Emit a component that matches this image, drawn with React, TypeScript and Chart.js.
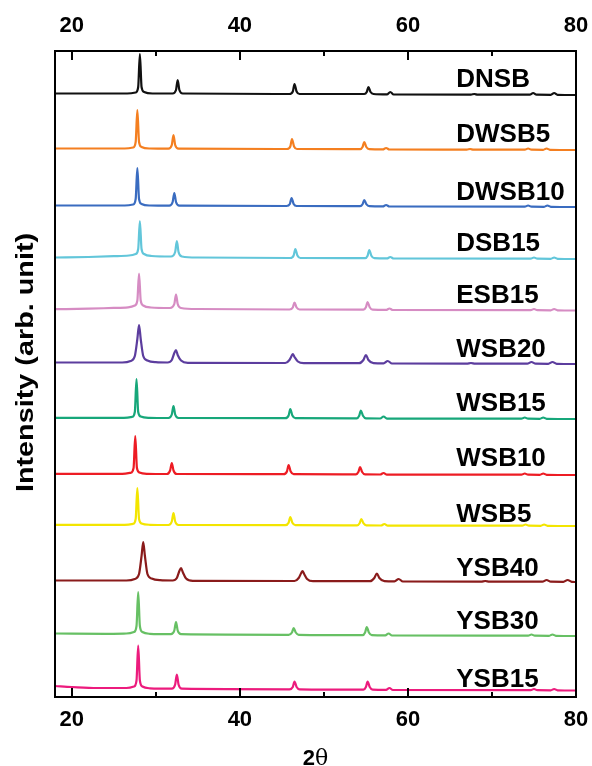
import React, { useEffect, useRef } from 'react';
import { Chart, registerables } from 'chart.js';

Chart.register(...registerables);

// ---- data -------------------------------------------------------------
const sampleNames = ['DNSB', 'DWSB5', 'DWSB10', 'DSB15', 'ESB15', 'WSB20', 'WSB15', 'WSB10', 'WSB5', 'YSB40', 'YSB30', 'YSB15'];
// vertical stacking offset of each pattern (arb. unit)
const baselineOffsets = [602, 547, 490, 438, 386.5, 333, 278, 222, 171, 115, 61, 6.5];
// vertical level of each sample name (arb. unit)
const labelLevels = [619, 564, 506, 455, 403, 349.5, 295, 240, 184.5, 130, 77, 19];
const labelStart2Theta = 65.75;
const xMin = 18;
const xMax = 80;
const yMin = 0;
const yMax = 646;
const xMajorTicks = [20, 40, 60, 80];
const xMinorTicks = [30, 50, 70];

// patterns: flat [2θ, intensity, 2θ, intensity, ...]
const DNSB = [18, 1.5, 26.6, 1.5, 27.6, 2.5, 27.9, 8, 28.1, 41, 28.3, 8, 28.6, 3, 29.6, 1.5, 32.0, 1.5, 32.4, 5, 32.6, 15, 32.8, 5, 33.2, 1.5, 45.9, 1, 46.3, 3.5, 46.5, 11, 46.75, 3.5, 47.1, 1, 54.8, 1, 55.1, 3, 55.3, 8, 55.55, 3, 55.9, 1, 57.5, 0.6, 57.9, 3, 58.3, 0.5, 67.5, 0.4, 67.9, 1, 68.3, 0.3, 74.5, 0.3, 74.9, 2, 75.3, 0.3, 77.0, 0.2, 77.4, 2, 77.8, 0.2, 80, 0];
const DWSB5 = [18, 1.5, 26.3, 1.5, 27.3, 2.5, 27.6, 8, 27.8, 40, 28.0, 8, 28.3, 3, 29.3, 1.5, 31.5, 1.3, 31.9, 5, 32.1, 15, 32.3, 5, 32.7, 1.3, 45.6, 1, 46.0, 3.5, 46.2, 11, 46.45, 3.5, 46.8, 1, 54.3, 0.8, 54.6, 3, 54.8, 8, 55.05, 3, 55.4, 0.8, 57.0, 0.6, 57.4, 2, 57.8, 0.5, 67.0, 0.4, 67.4, 1, 67.8, 0.3, 73.9, 0.3, 74.3, 1.5, 74.7, 0.3, 76.1, 0.2, 76.5, 1.5, 76.9, 0.2, 80, 0];
const DWSB10 = [18, 1.5, 26.3, 1.5, 27.3, 2.5, 27.6, 8, 27.8, 39, 28.0, 8, 28.3, 3, 29.3, 1.5, 31.6, 1.3, 32.0, 5, 32.2, 14, 32.4, 5, 32.8, 1.3, 45.55, 1, 45.95, 3, 46.15, 9, 46.4, 3, 46.75, 1, 54.3, 0.8, 54.6, 2.8, 54.8, 7, 55.05, 2.8, 55.4, 0.8, 57.0, 0.6, 57.4, 2, 57.8, 0.5, 73.9, 0.3, 74.3, 1.5, 74.7, 0.3, 76.2, 0.2, 76.6, 1.5, 77.0, 0.2, 80, 0];
const DSB15 = [18, 1.5, 22, 2, 25, 2.8, 26.8, 3.5, 27.6, 5, 27.9, 10, 28.1, 38, 28.3, 10, 28.6, 5, 29.5, 3, 31.8, 2.5, 32.3, 7, 32.5, 18, 32.7, 7, 33.1, 2.5, 35, 1.5, 46.0, 1, 46.4, 3.5, 46.6, 10, 46.85, 3.5, 47.2, 1, 54.9, 0.8, 55.2, 3.3, 55.4, 9, 55.65, 3.3, 56.0, 0.8, 57.5, 0.6, 57.9, 2, 58.3, 0.5, 74.6, 0.3, 75.0, 1.5, 75.4, 0.3, 77.0, 0.2, 77.4, 1.5, 77.8, 0.2, 80, 0];
const ESB15 = [18, 1.3, 22, 1.8, 25, 2.6, 26.7, 3.2, 27.5, 5, 27.8, 10, 28.0, 37, 28.2, 10, 28.5, 5, 29.4, 3, 31.7, 2.5, 32.2, 6.5, 32.4, 16, 32.6, 6.5, 33.0, 2.5, 35, 1.5, 45.9, 1, 46.3, 3, 46.5, 8, 46.75, 3, 47.1, 1, 54.7, 0.8, 55.0, 3.2, 55.2, 8.5, 55.45, 3.2, 55.8, 0.8, 57.4, 0.6, 57.8, 2, 58.2, 0.5, 74.6, 0.3, 75.0, 1.5, 75.4, 0.3, 77.0, 0.2, 77.4, 1.5, 77.8, 0.2, 80, 0];
const WSB20 = [18, 1.5, 26.0, 1.5, 27.0, 3, 27.5, 8, 27.8, 25, 28.0, 39, 28.2, 25, 28.5, 8, 29.0, 3.5, 30, 1.8, 31.4, 1.5, 31.9, 4, 32.2, 11, 32.4, 14, 32.6, 9, 33.0, 3.5, 33.8, 1.2, 45.4, 1, 45.9, 4, 46.15, 8, 46.3, 10, 46.5, 7, 46.9, 2.5, 47.6, 0.8, 54.2, 0.8, 54.7, 4, 55.0, 9, 55.3, 4, 55.9, 0.8, 57.1, 0.6, 57.6, 3, 58.1, 0.5, 67.0, 0.4, 67.5, 1, 68.0, 0.3, 74.2, 0.3, 74.7, 2, 75.2, 0.3, 76.7, 0.2, 77.2, 2, 77.7, 0.2, 80, 0];
const WSB15 = [18, 1.2, 26.2, 1.2, 27.2, 2.2, 27.5, 7, 27.7, 40, 27.9, 7, 28.2, 2.5, 29.2, 1.2, 31.5, 1, 31.9, 4.5, 32.1, 13, 32.3, 4.5, 32.7, 1, 45.4, 0.8, 45.8, 3.5, 46.0, 10, 46.25, 3.5, 46.6, 0.8, 53.9, 0.6, 54.2, 3.2, 54.4, 8.5, 54.65, 3.2, 55.0, 0.6, 56.7, 0.5, 57.1, 2.5, 57.5, 0.4, 73.5, 0.3, 73.9, 1.5, 74.3, 0.3, 75.7, 0.2, 76.1, 1.5, 76.5, 0.2, 80, 0];
const WSB10 = [18, 1.2, 26.0, 1.2, 27.0, 2.2, 27.35, 7, 27.55, 39, 27.75, 7, 28.05, 2.5, 29.0, 1.2, 31.3, 1, 31.7, 4.5, 31.9, 12, 32.1, 4.5, 32.5, 1, 45.2, 0.8, 45.6, 3.5, 45.8, 10, 46.05, 3.5, 46.4, 0.8, 53.8, 0.6, 54.1, 3, 54.3, 8, 54.55, 3, 54.9, 0.6, 56.7, 0.5, 57.1, 2, 57.5, 0.4, 73.5, 0.3, 73.9, 1.5, 74.3, 0.3, 75.7, 0.2, 76.1, 1.5, 76.5, 0.2, 80, 0];
const WSB5 = [18, 1.2, 26.3, 1.2, 27.3, 2.2, 27.6, 7, 27.8, 38, 28.0, 7, 28.3, 2.5, 29.3, 1.2, 31.5, 1, 31.9, 4.5, 32.1, 13, 32.3, 4.5, 32.7, 1, 45.4, 0.8, 45.8, 3.2, 46.0, 9, 46.25, 3.2, 46.6, 0.8, 53.95, 0.6, 54.25, 2.8, 54.45, 7, 54.7, 2.8, 55.05, 0.6, 56.8, 0.5, 57.2, 2, 57.6, 0.4, 73.6, 0.3, 74.0, 1.5, 74.4, 0.3, 75.8, 0.2, 76.2, 1.5, 76.6, 0.2, 80, 0];
const YSB40 = [18, 1.5, 26.5, 1.5, 27.5, 3, 28.0, 8, 28.3, 26, 28.5, 40, 28.7, 26, 29.0, 8, 29.5, 3.5, 30.5, 1.8, 32.0, 1.5, 32.5, 4, 32.8, 11, 33.0, 14, 33.2, 10, 33.6, 3.5, 34.4, 1.2, 46.5, 1, 47.0, 4, 47.3, 9, 47.45, 11, 47.65, 8, 48.0, 3, 48.7, 0.8, 55.5, 0.8, 56.0, 4, 56.3, 8.5, 56.6, 4, 57.2, 0.8, 58.4, 0.6, 58.9, 3, 59.4, 0.5, 68.7, 0.4, 69.2, 1, 69.7, 0.3, 76.0, 0.3, 76.5, 2, 77.0, 0.3, 78.5, 0.2, 79.0, 2, 79.5, 0.2, 80, 0];
const YSB30 = [18, 2.5, 24, 2.2, 26.5, 2.5, 27.4, 4, 27.7, 10, 27.9, 44, 28.1, 10, 28.4, 4, 29.3, 2.2, 31.8, 1.8, 32.2, 5.5, 32.4, 14, 32.6, 5.5, 33.0, 1.8, 45.8, 1.2, 46.2, 3.5, 46.4, 8, 46.65, 3.5, 47.0, 1.2, 54.6, 0.8, 54.9, 3.5, 55.1, 9, 55.35, 3.5, 55.7, 0.8, 57.3, 0.6, 57.7, 2.5, 58.1, 0.5, 74.3, 0.3, 74.7, 1.5, 75.1, 0.3, 76.8, 0.2, 77.2, 1.5, 77.6, 0.2, 80, 0];
const YSB15 = [18, 4.5, 20, 3.5, 23, 2.5, 26.5, 2.5, 27.4, 4, 27.7, 10, 27.9, 45, 28.1, 10, 28.4, 4, 29.3, 2.2, 31.9, 1.8, 32.3, 6, 32.5, 16, 32.7, 6, 33.1, 1.8, 45.9, 1.2, 46.3, 3.5, 46.5, 9, 46.75, 3.5, 47.1, 1.2, 54.7, 0.8, 55.0, 3.5, 55.2, 9, 55.45, 3.5, 55.8, 0.8, 57.4, 0.6, 57.8, 2.5, 58.2, 0.5, 74.6, 0.3, 75.0, 1.5, 75.4, 0.3, 77.0, 0.2, 77.4, 1.5, 77.8, 0.2, 80, 0];

const patterns = [DNSB, DWSB5, DWSB10, DSB15, ESB15, WSB20, WSB15, WSB10, WSB5, YSB40, YSB30, YSB15];

// ---- styles -----------------------------------------------------------
const lineColors = ['#111111', '#f47f20', '#3a6cc0', '#62c6da', '#d68cc3', '#5c3d9e', '#17a77a', '#ed1c24', '#f3e500', '#8a1b1b', '#67c064', '#ec1b7d'];
const FONT = '"Liberation Sans", Arial, sans-serif';

const decorPlugin = {
  id: 'decor',
  afterDatasetsDraw(chart: any) {
    const { ctx, chartArea } = chart;
    const xs = chart.scales.x;
    const ys = chart.scales.y;
    ctx.save();
    // frame
    ctx.strokeStyle = '#000';
    ctx.lineWidth = 2;
    ctx.strokeRect(chartArea.left, chartArea.top, chartArea.right - chartArea.left, chartArea.bottom - chartArea.top);
    // inward ticks
    const drawTick = (v: number, len: number) => {
      const px = Math.round(xs.getPixelForValue(v));
      ctx.beginPath();
      ctx.moveTo(px, chartArea.bottom);
      ctx.lineTo(px, chartArea.bottom - len);
      ctx.moveTo(px, chartArea.top);
      ctx.lineTo(px, chartArea.top + len);
      ctx.stroke();
    };
    xMajorTicks.forEach((v) => drawTick(v, 9));
    xMinorTicks.forEach((v) => drawTick(v, 5));
    // sample names
    ctx.fillStyle = '#000';
    ctx.font = `bold 26px ${FONT}`;
    ctx.textAlign = 'left';
    ctx.textBaseline = 'alphabetic';
    sampleNames.forEach((name, i) => {
      const px = xs.getPixelForValue(labelStart2Theta);
      const py = ys.getPixelForValue(labelLevels[i]);
      ctx.fillText(name, px, py + 26 * 0.358);
    });
    ctx.restore();

    // axis titles
    ctx.save();
    ctx.fillStyle = '#000';
    ctx.textBaseline = 'alphabetic';
    // y title
    ctx.translate(24, 362.5);
    ctx.rotate(-Math.PI / 2);
    ctx.scale(1.2, 1);
    ctx.font = `bold 24px ${FONT}`;
    ctx.textAlign = 'center';
    ctx.fillText('Intensity (arb. unit)', 0, 24 * 0.358);
    ctx.restore();

    ctx.save();
    ctx.fillStyle = '#000';
    ctx.textBaseline = 'alphabetic';
    const cx = (chartArea.left + chartArea.right) / 2;
    const by = 757 + 22 * 0.358;
    ctx.font = `bold 22px ${FONT}`;
    const w2 = ctx.measureText('2').width;
    ctx.font = `22px "DejaVu Serif", serif`;
    const wt = ctx.measureText('θ').width;
    const startX = cx - (w2 + wt) / 2;
    ctx.font = `bold 22px ${FONT}`;
    ctx.textAlign = 'left';
    ctx.fillText('2', startX, by);
    ctx.font = `22px "DejaVu Serif", serif`;
    ctx.fillText('θ', startX + w2, by);
    ctx.restore();
  },
};

export default function App() {
  const ref = useRef<HTMLCanvasElement | null>(null);

  useEffect(() => {
    if (!ref.current) return;
    const datasets = patterns.map((arr, i) => {
      const pts: { x: number; y: number }[] = [];
      for (let k = 0; k < arr.length; k += 2) pts.push({ x: arr[k], y: arr[k + 1] + baselineOffsets[i] });
      return {
        label: sampleNames[i],
        data: pts,
        borderColor: lineColors[i],
        backgroundColor: lineColors[i],
        borderWidth: 2.2,
        pointRadius: 0,
        fill: false,
        cubicInterpolationMode: 'monotone' as const,
      };
    });
    const tickFont = { family: FONT, size: 22, weight: 'bold' as const };
    const setTicks = (s: any) => {
      s.ticks = xMajorTicks.map((v) => ({ value: v }));
    };
    const noPad = (s: any) => {
      s.paddingLeft = 0;
      s.paddingRight = 0;
      s.paddingTop = 0;
      s.paddingBottom = 0;
    };
    const chart = new Chart(ref.current, {
      type: 'line',
      data: { datasets },
      options: {
        animation: false,
        responsive: false,
        devicePixelRatio: 1,
        layout: { padding: { left: 0, right: 16, top: 0, bottom: 0 } },
        plugins: { legend: { display: false }, tooltip: { enabled: false } },
        scales: {
          x: {
            type: 'linear',
            position: 'bottom',
            min: xMin,
            max: xMax,
            grid: { display: false, drawTicks: false },
            border: { display: false },
            afterBuildTicks: setTicks,
            afterFit: (s: any) => { s.height = 69; noPad(s); },
            ticks: { font: tickFont, color: '#000', padding: 10, maxRotation: 0, autoSkip: false },
          },
          x2: {
            type: 'linear',
            position: 'top',
            min: xMin,
            max: xMax,
            grid: { display: false, drawTicks: false },
            border: { display: false },
            afterBuildTicks: setTicks,
            afterFit: (s: any) => { s.height = 51; noPad(s); },
            ticks: { font: tickFont, color: '#000', padding: 12, maxRotation: 0, autoSkip: false },
          },
          y: {
            type: 'linear',
            min: yMin,
            max: yMax,
            grid: { display: false, drawTicks: false },
            border: { display: false },
            ticks: { display: false },
            afterFit: (s: any) => { s.width = 55; noPad(s); },
          },
        },
      },
      plugins: [decorPlugin],
    });
    return () => chart.destroy();
  }, []);

  return (
    <div style={{ position: 'fixed', left: 0, top: 0, width: 592, height: 766, background: '#fff' }}>
      <canvas ref={ref} width={592} height={766} style={{ width: 592, height: 766, display: 'block' }} />
    </div>
  );
}
